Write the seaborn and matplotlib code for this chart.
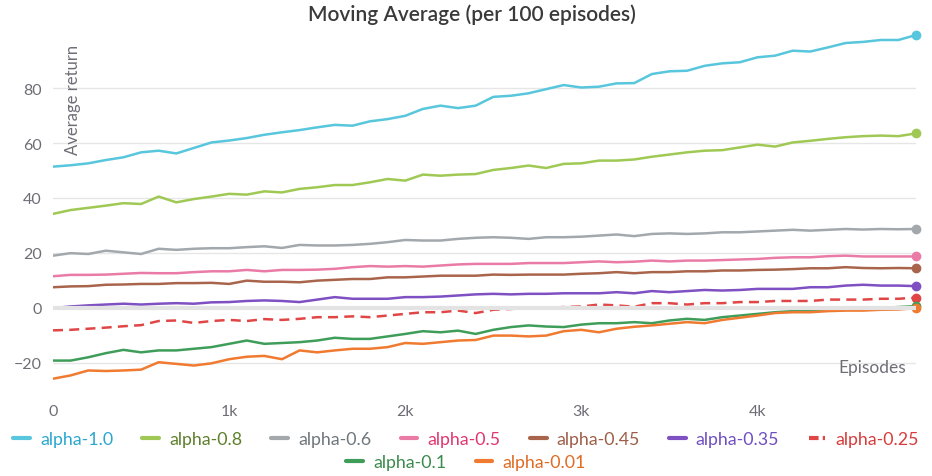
import matplotlib
matplotlib.use("Agg")
import numpy as np
import pandas as pd
import seaborn as sns
import matplotlib.pyplot as plt
from matplotlib.lines import Line2D

episodes = list(range(0, 5000, 100))

alpha_1_0 = [51.4, 51.9, 52.6, 53.8, 54.8, 56.6, 57.2, 56.2, 58.2, 60.2,
             60.9, 61.8, 63.0, 63.9, 64.7, 65.7, 66.6, 66.3, 67.9, 68.7,
             69.9, 72.4, 73.6, 72.7, 73.6, 76.8, 77.2, 78.1, 79.6, 81.1,
             80.2, 80.5, 81.7, 81.8, 85.1, 86.1, 86.3, 88.1, 89.0, 89.4,
             91.2, 91.8, 93.6, 93.3, 94.8, 96.4, 96.8, 97.5, 97.5, 99.3]
alpha_0_8 = [34.2, 35.6, 36.4, 37.2, 38.1, 37.8, 40.5, 38.4, 39.6, 40.5,
             41.5, 41.2, 42.4, 42.0, 43.3, 43.9, 44.7, 44.7, 45.7, 46.9,
             46.3, 48.5, 48.1, 48.5, 48.7, 50.2, 50.9, 51.8, 50.9, 52.4,
             52.6, 53.6, 53.6, 54.0, 55.0, 55.8, 56.6, 57.2, 57.4, 58.4,
             59.4, 58.7, 60.2, 60.8, 61.5, 62.1, 62.5, 62.7, 62.5, 63.5]
alpha_0_6 = [19.0, 19.9, 19.6, 20.8, 20.2, 19.6, 21.5, 21.1, 21.5, 21.7,
             21.7, 22.1, 22.4, 21.8, 22.9, 22.7, 22.7, 22.9, 23.3, 23.9,
             24.7, 24.5, 24.5, 25.1, 25.5, 25.7, 25.5, 25.1, 25.7, 25.7,
             25.9, 26.3, 26.7, 26.1, 26.9, 27.1, 26.9, 27.1, 27.5, 27.5,
             27.8, 28.1, 28.4, 28.1, 28.4, 28.7, 28.5, 28.7, 28.6, 28.7]
alpha_0_5 = [11.5, 12.0, 12.0, 12.1, 12.4, 12.7, 12.6, 12.6, 13.0, 13.3,
             13.3, 13.8, 13.3, 13.8, 13.8, 13.9, 14.2, 14.8, 15.2, 15.0,
             15.2, 15.0, 15.4, 15.8, 16.0, 16.0, 16.0, 16.3, 16.3, 16.3,
             16.6, 16.9, 16.6, 16.8, 17.2, 16.9, 17.2, 17.2, 17.4, 17.6,
             17.8, 18.2, 18.4, 18.4, 18.8, 19.0, 18.7, 18.7, 18.7, 18.7]
alpha_0_45 = [7.5, 7.8, 7.9, 8.4, 8.5, 8.7, 8.7, 9.0, 9.0, 9.1,
              8.7, 9.9, 9.5, 9.5, 9.3, 9.9, 10.2, 10.5, 10.5, 11.1,
              11.1, 11.4, 11.7, 11.7, 11.7, 12.1, 12.0, 12.1, 12.1, 12.1,
              12.4, 12.6, 13.0, 12.6, 13.0, 13.0, 13.3, 13.3, 13.6, 13.6,
              13.8, 13.9, 14.1, 14.4, 14.4, 14.8, 14.5, 14.4, 14.5, 14.4]
alpha_0_35 = [-0.1, 0.5, 0.9, 1.2, 1.5, 1.2, 1.5, 1.7, 1.5, 2.0,
              2.1, 2.5, 2.7, 2.5, 2.1, 3.0, 3.9, 3.3, 3.3, 3.3,
              3.9, 3.9, 4.1, 4.5, 4.9, 5.1, 4.9, 5.1, 5.1, 5.3,
              5.3, 5.3, 5.7, 5.3, 6.1, 5.7, 6.1, 6.5, 6.3, 6.5,
              6.9, 6.9, 6.9, 7.5, 7.5, 8.1, 8.4, 8.1, 8.1, 7.9]
alpha_0_25 = [-8.2, -8.0, -7.6, -7.2, -6.7, -6.3, -4.8, -4.6, -5.5, -4.8,
              -4.4, -4.8, -4.1, -4.4, -4.0, -3.4, -3.4, -3.1, -3.4, -2.8,
              -2.2, -1.6, -1.6, -1.0, -1.9, -0.7, -0.4, -0.1, -0.1, 0.3,
              0.5, 1.2, 0.9, 0.4, 1.7, 1.7, 1.2, 1.7, 1.7, 2.1,
              2.1, 2.5, 2.5, 2.5, 3.0, 3.0, 3.0, 3.3, 3.3, 3.7]
alpha_0_1 = [-19.2, -19.2, -18.0, -16.5, -15.3, -16.2, -15.5, -15.5, -14.9, -14.3,
             -13.1, -11.9, -13.1, -12.8, -12.5, -11.9, -10.9, -11.3, -11.3, -10.4,
             -9.5, -8.5, -8.9, -8.3, -9.5, -8.0, -7.0, -6.4, -6.8, -7.0,
             -6.1, -5.6, -5.6, -5.2, -5.6, -4.6, -4.0, -4.4, -3.4, -2.8,
             -2.2, -1.6, -1.2, -1.2, -1.0, -0.7, -0.4, -0.1, 0.3, 0.6]
alpha_0_01 = [-25.8, -24.6, -22.8, -23.0, -22.8, -22.5, -19.8, -20.4, -21.0, -20.2,
              -18.7, -17.8, -17.5, -18.7, -15.5, -16.2, -15.5, -14.9, -14.9, -14.3,
              -12.8, -13.1, -12.5, -11.9, -11.7, -10.1, -10.1, -10.4, -10.1, -8.5,
              -8.0, -8.9, -7.6, -6.9, -6.4, -5.8, -5.2, -5.6, -4.4, -3.6,
              -2.8, -1.9, -1.6, -1.6, -1.2, -1.0, -1.0, -0.7, -0.6, -0.1]

names = ["alpha-1.0", "alpha-0.8", "alpha-0.6", "alpha-0.5", "alpha-0.45",
         "alpha-0.35", "alpha-0.25", "alpha-0.1", "alpha-0.01"]
series = [alpha_1_0, alpha_0_8, alpha_0_6, alpha_0_5, alpha_0_45,
          alpha_0_35, alpha_0_25, alpha_0_1, alpha_0_01]
line_colors = ["#58c6dc", "#9fc954", "#a2a8ac", "#ea7ba6", "#a9654c",
               "#7e50c2", "#e04646", "#3f9d5a", "#f07a30"]
text_colors = ["#2ba6cf", "#5e7f2c", "#6e767c", "#e0366f", "#9c5f48",
               "#6f4ec0", "#d63c3c", "#3a8a4d", "#e06a22"]

df = pd.DataFrame({"episode": episodes * len(names),
                   "value": sum(series, []),
                   "run": np.repeat(names, len(episodes))})

sns.set_theme(style="white")
plt.rcParams["font.family"] = ["Lato", "DejaVu Sans"]

fig = plt.figure(figsize=(9.32, 4.77), dpi=100)
ax = fig.add_axes([53 / 932, 1 - 394 / 477, 863 / 932, 364 / 477])

for name, col in zip(names, line_colors):
    sub = df[df["run"] == name]
    ls = (0, (4, 2.5)) if name == "alpha-0.25" else "-"
    sns.lineplot(data=sub, x="episode", y="value", color=col, linewidth=1.8,
                 linestyle=ls, ax=ax, legend=False, zorder=3)
    ax.plot(sub["episode"].iloc[-1], sub["value"].iloc[-1], "o", color=col,
            markersize=6, clip_on=False, zorder=4)

ax.axhline(0, color="#e3e3e3", linewidth=3, zorder=5)

ax.set_xlim(0, 4900)
ax.set_ylim(-31, 101.5)
ax.set_yticks([-20, 0, 20, 40, 60, 80])
ax.set_xticks([0, 1000, 2000, 3000, 4000])
ax.set_xticklabels(["0", "1k", "2k", "3k", "4k"])
ax.grid(axis="y", color="#e6e6e6", linewidth=1)
ax.grid(axis="x", visible=False)
for s in ax.spines.values():
    s.set_visible(False)
ax.tick_params(axis="y", length=0, pad=8, labelsize=11.5, labelcolor="#6e6e76")
ax.tick_params(axis="x", direction="in", length=14, width=1, color="#dddddd",
               pad=8, labelsize=11.5, labelcolor="#6e6e76")
ax.set_xlabel("")
ax.set_ylabel("")

ax.text(0.023, 0.96, "Average return", transform=ax.transAxes, rotation=90,
        ha="center", va="top", fontsize=12, color="#6e6e76")
ax.text(0.988, 0.071, "Episodes", transform=ax.transAxes, ha="right",
        va="center", fontsize=12.5, color="#6e6e76")

fig.text(0.506, 1 - 15 / 477, "Moving Average (per 100 episodes)", ha="center",
         va="center", fontsize=15, fontweight="semibold", color="#3a3a3a")


def make_handle(name, col):
    ls = (0, (2.3, 1)) if name == "alpha-0.25" else "-"
    return Line2D([], [], color=col, linewidth=3, linestyle=ls)


rows = [(0, 7, 1 - 440 / 477), (7, 9, 1 - 463 / 477)]
for a, b, yy in rows:
    handles = [make_handle(n, c) for n, c in zip(names[a:b], line_colors[a:b])]
    leg = fig.legend(handles, names[a:b], loc="center", bbox_to_anchor=(0.5, yy),
                     ncol=b - a, frameon=False, fontsize=12.8, handlelength=0.95,
                     handletextpad=0.55, columnspacing=1.65, borderpad=0)
    for t, c in zip(leg.get_texts(), text_colors[a:b]):
        t.set_color(c)

fig.savefig("out.png", dpi=100, facecolor="white")
